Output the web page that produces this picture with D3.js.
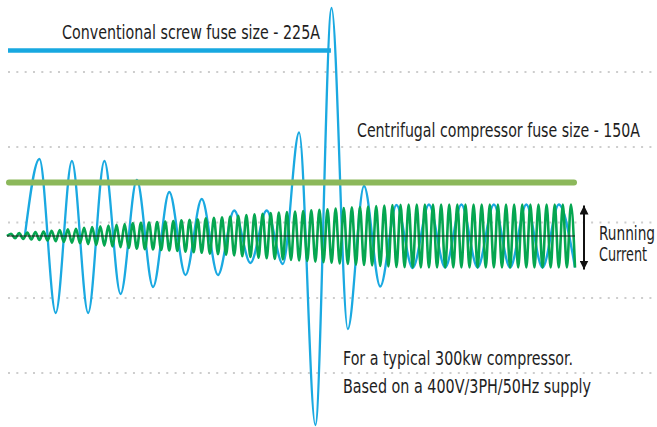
<!DOCTYPE html>
<html>
<head>
<meta charset="utf-8">
<script src="https://cdn.jsdelivr.net/npm/d3@7"></script>
<style>
  html, body { margin: 0; padding: 0; background: #fff; }
  svg { display: block; }
  .note {
    font-family: "Liberation Sans Narrow", "DejaVu Sans Condensed", "Arial Narrow", sans-serif;
    font-size: 19px;
    fill: #1e1e1e;
  }
</style>
</head>
<body>
<div id="chart"></div>
<script>
// ---- Data (time in ms, current in relative units: 0 = zero line) ----
const gridLevels = [164, 89, 13.5, -62, -137];

const fuseNames = [
  "Conventional screw fuse size - 225A",
  "Centrifugal compressor fuse size - 150A"
];
const fuseLevels = [185.5, 53.5];
const fuseEndTimes = [199.6, 350];

// screw compressor (direct on line) - peaks and troughs of the current wave
const screwTimes = [
  11, 20, 30, 40, 50, 60, 70, 80, 90, 100, 110, 120, 130, 140, 150, 160, 170,
  180, 190, 200, 210, 220, 230, 240, 250, 260, 270, 280, 290, 300, 310, 320,
  330, 340, 350
];
const screwCurrent = [
  0, 77, -77, 75, -77, 75, -58, 56, -51, 44, -39, 37, -39, 25.5, -27, 25.5, -28,
  103.5, -189, 228, -93, 50, -50.5, 31, -32, 31.5, -31.5, 31.5, -31.5, 31.5,
  -31.5, 31.5, -31.5, 31.5, -31.5
];

// centrifugal compressor (soft start) - amplitude of each cycle of the wave
const centrifugalAmps = [
  2.3, 3, 3.5, 4, 4.5, 5.2, 5.9, 6.6, 7.3, 8.1,
  8.9, 9.7, 10.4, 11.2, 12, 12.7, 13.1, 13.5, 14, 14.5,
  15, 15.7, 16.2, 16.8, 17.6, 18.1, 18.7, 19.4, 20.2, 21,
  21.7, 22.3, 22.9, 23.5, 24, 24.5, 25, 25.6, 26.2, 26.8,
  27.5, 28, 28.6, 29, 29.5, 30, 30.5, 31, 31.3, 31.5,
  31.5, 31.5, 31.5, 31.5, 31.5, 31.5, 31.5, 31.5, 31.5, 31.5,
  31.5, 31.5, 31.5, 31.5, 31.5, 31.5, 31.5, 31.5, 31.5, 31.5
];

const runningPeak = 31.5;

const notes = [
  "For a typical 300kw compressor.",
  "Based on a 400V/3PH/50Hz supply"
];
const runningLabel = ["Running", "Current"];

// ---- Layout ----
const width = 657, height = 427;
const plotLeft = 7, plotRight = 575;

const svg = d3.select("#chart").append("svg")
  .attr("width", width)
  .attr("height", height);

const x = d3.scaleLinear().domain([0, 350]).range([plotLeft, plotRight]);
const y = d3.scaleLinear().domain([-200, 240]).range([436, -4]);

// dotted grid lines
svg.append("g")
  .selectAll("line")
  .data(gridLevels)
  .join("line")
  .attr("x1", 8)
  .attr("x2", width)
  .attr("y1", d => y(d))
  .attr("y2", d => y(d))
  .attr("stroke", "#cdcdcd")
  .attr("stroke-width", 2)
  .attr("stroke-dasharray", "2,6.33");

const lineGen = d3.line()
  .x(d => x(d.t))
  .y(d => y(d.v))
  .curve(d3.curveMonotoneX);

// screw compressor wave
const screwSeries = screwTimes.map((t, i) => ({ t, v: screwCurrent[i] }));
svg.append("path")
  .datum(screwSeries)
  .attr("fill", "none")
  .attr("stroke", "#1aa9e1")
  .attr("stroke-width", 2.3)
  .attr("d", lineGen);

// centrifugal compressor wave: one peak and one trough per cycle
const cycle = d3.scaleLinear().domain([0, centrifugalAmps.length]).range([0, 350]);
const centrifugalSeries = [{ t: 0, v: 0 }];
centrifugalAmps.forEach((a, i) => {
  centrifugalSeries.push({ t: cycle(i + 0.5), v: a });
  centrifugalSeries.push({ t: cycle(i + 1), v: -a });
});
svg.append("path")
  .datum(centrifugalSeries)
  .attr("fill", "none")
  .attr("stroke", "#05a650")
  .attr("stroke-width", 2.6)
  .attr("d", lineGen);

// zero line
svg.append("line")
  .attr("x1", x(0))
  .attr("x2", x(350))
  .attr("y1", y(0))
  .attr("y2", y(0))
  .attr("stroke", "#1a1a1a")
  .attr("stroke-width", 1.2);

// fuse size lines
const fuseColors = ["#18a8e0", "#8cb85b"];
const fuseWidths = [4.5, 6];
const fuseCaps = ["butt", "round"];
fuseLevels.forEach((lvl, i) => {
  svg.append("line")
    .attr("x1", x(0) + (i === 0 ? 1 : 2))
    .attr("x2", x(fuseEndTimes[i]) - (i === 0 ? 0 : 1))
    .attr("y1", y(lvl))
    .attr("y2", y(lvl))
    .attr("stroke", fuseColors[i])
    .attr("stroke-width", fuseWidths[i])
    .attr("stroke-linecap", fuseCaps[i]);
});

// labels (widths pinned to the reference since the condensed face differs)
function note(text, px, py, len) {
  svg.append("text").attr("class", "note")
    .attr("x", px).attr("y", py)
    .attr("textLength", len)
    .attr("lengthAdjust", "spacingAndGlyphs")
    .text(text);
}

note(fuseNames[0], 62, 39, 258);
note(fuseNames[1], 357, 137, 283);
note(notes[0], 343, 365, 230);
note(notes[1], 343, 393, 248);
note(runningLabel[0], 599, 240, 56);
note(runningLabel[1], 599, 261, 48);

// running current arrow
const defs = svg.append("defs");
defs.append("marker")
  .attr("id", "head")
  .attr("viewBox", "0 0 10 10")
  .attr("refX", 10)
  .attr("refY", 5)
  .attr("markerWidth", 4.5)
  .attr("markerHeight", 4.5)
  .attr("orient", "auto-start-reverse")
  .attr("markerUnits", "strokeWidth")
  .append("path")
  .attr("d", "M0,0 L10,5 L0,10 Z")
  .attr("fill", "#111");

svg.append("line")
  .attr("x1", 584).attr("x2", 584)
  .attr("y1", y(runningPeak) + 1)
  .attr("y2", y(-runningPeak) + 2)
  .attr("stroke", "#111")
  .attr("stroke-width", 2)
  .attr("marker-start", "url(#head)")
  .attr("marker-end", "url(#head)");
</script>
</body>
</html>
